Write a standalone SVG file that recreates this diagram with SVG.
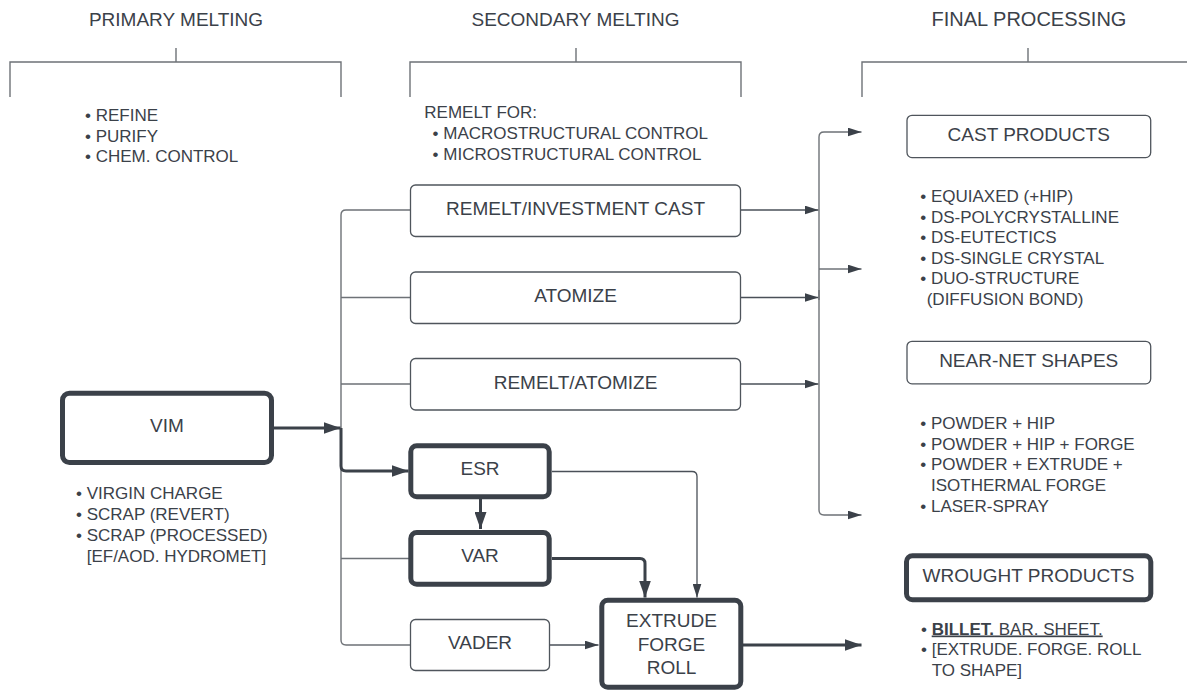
<svg xmlns="http://www.w3.org/2000/svg" width="1187" height="691" viewBox="0 0 1187 691">
<style>
text{font-family:"Liberation Sans",Arial,sans-serif;fill:#3b4149}
.h{font-size:19px;text-anchor:middle}
.lb{font-size:19px;text-anchor:middle}
.bt{font-size:17px}
.br{fill:none;stroke:#6e7277;stroke-width:1.4}
.bx{fill:#fff;stroke:#4f555c;stroke-width:1.3}
.tk{fill:#fff;stroke:#3b4149;stroke-width:5}
.c{fill:none;stroke:#4a5058;stroke-width:1.3}
.cb{fill:none;stroke:#6e7277;stroke-width:1.4}
.ct{fill:none;stroke:#3b4149;stroke-width:3}
</style>
<defs>
<marker id="a" viewBox="0 0 14 9" refX="14" refY="4.5" markerWidth="14" markerHeight="9" markerUnits="userSpaceOnUse" orient="auto"><path d="M0 0L14 4.5L0 9Z" fill="#3b4149"/></marker>
<marker id="b" viewBox="0 0 17 12" refX="17" refY="6" markerWidth="17" markerHeight="12" markerUnits="userSpaceOnUse" orient="auto"><path d="M0 0L17 6L0 12Z" fill="#3b4149"/></marker>
</defs>
<rect width="1187" height="691" fill="#fff"/>

<g id="headers">
<text class="h" x="176" y="26">PRIMARY MELTING</text>
<text class="h" x="575.5" y="26">SECONDARY MELTING</text>
<text class="h" x="1029" y="26" style="font-size:20px">FINAL PROCESSING</text>
<path class="br" d="M176 48V62M10 97V62H341V97"/>
<path class="br" d="M576 48V62M410 97V62H741V97"/>
<path class="br" d="M1028 48V62M862 97V62H1187"/>
</g>

<g id="notes-primary">
<text class="bt" x="85" y="121">• REFINE</text>
<text class="bt" x="85" y="141.5">• PURIFY</text>
<text class="bt" x="85" y="162">• CHEM. CONTROL</text>
</g>
<g id="notes-secondary">
<text class="bt" x="424.3" y="118">REMELT FOR:</text>
<text class="bt" x="432.6" y="139">• MACROSTRUCTURAL CONTROL</text>
<text class="bt" x="432.6" y="159.5">• MICROSTRUCTURAL CONTROL</text>
</g>

<g id="connectors">
<path class="cb" d="M410 210H346Q341 210 341 215V640Q341 645 346 645H410M341 297.5H410M341 384H410M341 558.5H410"/>
<path class="c" d="M741 210H818.5" marker-end="url(#a)"/>
<path class="c" d="M741 297.5H818.5" marker-end="url(#a)"/>
<path class="c" d="M741 384H818.5" marker-end="url(#a)"/>
<path class="cb" d="M819 300V137Q819 132 824 132H861.5" marker-end="url(#a)"/>
<path class="cb" d="M819 269H861.5" marker-end="url(#a)"/>
<path class="cb" d="M819 290V510Q819 515 824 515H861.5" marker-end="url(#a)"/>
<path class="ct" d="M274 428H340.5" marker-end="url(#b)"/>
<path class="ct" d="M341 428V466Q341 471 346 471H408.5" marker-end="url(#b)"/>
<path class="ct" d="M480.5 499V529" marker-end="url(#b)"/>
<path class="ct" d="M552 558.5H640Q645 558.5 645 563.5V597.5" marker-end="url(#b)"/>
<path class="c" d="M552 471.5H692Q697 471.5 697 476.5V597.5" marker-end="url(#a)"/>
<path class="c" d="M550 645H598.5" marker-end="url(#a)"/>
<path class="ct" d="M743 645H861.5" marker-end="url(#b)"/>
</g>

<g id="vim">
<rect class="tk" x="62.5" y="393.2" width="209" height="69.3" rx="7"/>
<text class="lb" x="167" y="432">VIM</text>
<text class="bt" x="76" y="499">• VIRGIN CHARGE</text>
<text class="bt" x="76" y="520">• SCRAP (REVERT)</text>
<text class="bt" x="76" y="541">• SCRAP (PROCESSED)</text>
<text class="bt" x="86.7" y="562">[EF/AOD. HYDROMET]</text>
</g>

<g id="remelt-investment-cast">
<rect class="bx" x="410.5" y="185" width="330" height="51.5" rx="5"/>
<text class="lb" x="575.5" y="214.5">REMELT/INVESTMENT CAST</text>
</g>
<g id="atomize">
<rect class="bx" x="410.5" y="272" width="330" height="51.5" rx="5"/>
<text class="lb" x="575.5" y="302">ATOMIZE</text>
</g>
<g id="remelt-atomize">
<rect class="bx" x="410.5" y="358.5" width="330" height="51.5" rx="5"/>
<text class="lb" x="575.5" y="388.5">REMELT/ATOMIZE</text>
</g>
<g id="esr">
<rect class="tk" x="410.8" y="445.8" width="138.4" height="51" rx="6"/>
<text class="lb" x="480" y="475">ESR</text>
</g>
<g id="var">
<rect class="tk" x="410.8" y="532.5" width="138.4" height="51.7" rx="6"/>
<text class="lb" x="480" y="562">VAR</text>
</g>
<g id="vader">
<rect class="bx" x="410.5" y="619.5" width="139" height="51" rx="5"/>
<text class="lb" x="480" y="648.5">VADER</text>
</g>
<g id="extrude-forge-roll">
<rect class="tk" x="601.8" y="600.2" width="139" height="87" rx="6"/>
<text class="lb" x="671.5" y="627">EXTRUDE</text>
<text class="lb" x="671.5" y="651">FORGE</text>
<text class="lb" x="671.5" y="673.5">ROLL</text>
</g>

<g id="cast-products">
<rect class="bx" x="907" y="115.3" width="243.7" height="42.3" rx="5"/>
<text class="lb" x="1028.7" y="140.5">CAST PRODUCTS</text>
<text class="bt" x="920.3" y="202">• EQUIAXED (+HIP)</text>
<text class="bt" x="920.3" y="222.5">• DS-POLYCRYSTALLINE</text>
<text class="bt" x="920.3" y="243">• DS-EUTECTICS</text>
<text class="bt" x="920.3" y="263.5">• DS-SINGLE CRYSTAL</text>
<text class="bt" x="920.3" y="284">• DUO-STRUCTURE</text>
<text class="bt" x="926.7" y="305">(DIFFUSION BOND)</text>
</g>
<g id="near-net-shapes">
<rect class="bx" x="907" y="341.3" width="243.7" height="42.5" rx="5"/>
<text class="lb" x="1028.7" y="367">NEAR-NET SHAPES</text>
<text class="bt" x="920.3" y="429">• POWDER + HIP</text>
<text class="bt" x="920.3" y="449.5">• POWDER + HIP + FORGE</text>
<text class="bt" x="920.3" y="470">• POWDER + EXTRUDE +</text>
<text class="bt" x="931" y="491">ISOTHERMAL FORGE</text>
<text class="bt" x="920.3" y="511.5">• LASER-SPRAY</text>
</g>
<g id="wrought-products">
<rect class="tk" x="906.5" y="555.8" width="244.3" height="44" rx="6"/>
<text class="lb" x="1028.5" y="582">WROUGHT PRODUCTS</text>
<text class="bt" x="921" y="634.5">• <tspan text-decoration="underline" font-weight="bold">BILLET.</tspan><tspan text-decoration="underline"> BAR. SHEET.</tspan></text>
<text class="bt" x="921" y="655">• [EXTRUDE. FORGE. ROLL</text>
<text class="bt" x="931.7" y="676">TO SHAPE]</text>
</g>
</svg>
